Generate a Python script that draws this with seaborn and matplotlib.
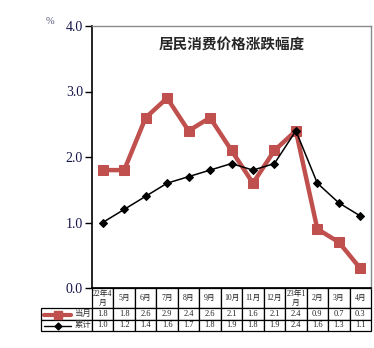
import matplotlib
matplotlib.use("Agg")
import matplotlib.pyplot as plt
import seaborn as sns
import numpy as np
import pandas as pd
from matplotlib.lines import Line2D

categories = ["22年4\n月", "5月", "6月", "7月", "8月", "9月", "10月", "11月", "12月",
              "23年1\n月", "2月", "3月", "4月"]
monthly = [1.8, 1.8, 2.6, 2.9, 2.4, 2.6, 2.1, 1.6, 2.1, 2.4, 0.9, 0.7, 0.3]
cumulative = [1.0, 1.2, 1.4, 1.6, 1.7, 1.8, 1.9, 1.8, 1.9, 2.4, 1.6, 1.3, 1.1]
series_names = ["当月", "累计"]
yticks = [0.0, 1.0, 2.0, 3.0, 4.0]
title = "居民消费价格涨跌幅度"

sns.set_theme(style="white")
plt.rcParams['font.family'] = ['Liberation Serif', 'Noto Sans CJK SC', 'DejaVu Sans']

RED = "#C0504D"
fig = plt.figure(figsize=(3.74, 3.48), dpi=100)
ax = fig.add_axes([92/374, 1-288/348, 279/374, 262/348])

df = pd.DataFrame({"idx": np.arange(len(categories)), "m": monthly, "c": cumulative})
sns.lineplot(data=df, x="idx", y="m", ax=ax, color=RED, linewidth=3.2, marker="s",
             markersize=7.5, markeredgecolor=RED, markerfacecolor=RED, zorder=2)
sns.lineplot(data=df, x="idx", y="c", ax=ax, color="black", linewidth=1.1, marker="D",
             markersize=4.3, markeredgecolor="black", markerfacecolor="black", zorder=3)

ax.set_xlim(-0.5, len(categories) - 0.5)
ax.set_ylim(0, 4.0)
ax.set_yticks(yticks)
ax.set_yticklabels([f"{v:.1f}" for v in yticks], fontsize=10, color="#15154a",
                   family=['Liberation Serif'])
ax.tick_params(axis='y', which='both', left=True, length=5, width=1, color="black", pad=1.5,
               direction='out')
ax.set_xticks([])
ax.set_xlabel("")
ax.set_ylabel("")
ax.spines['left'].set_color("black")
ax.spines['left'].set_linewidth(1.2)
for s in ['top', 'right']:
    ax.spines[s].set_color("#8a8a8a")
    ax.spines[s].set_linewidth(1.0)
ax.spines['bottom'].set_color("black")

ax.text(0.5, 1-19/262, title, transform=ax.transAxes, ha='center', va='center',
        fontsize=10.5, fontweight='bold', family=['Noto Sans CJK SC'])
fig.text(50/374, 1-21/348, "%", ha='center', va='center', fontsize=7.5, color="#555577",
         family=['Liberation Serif'])

# data table: 3 rows x 14 columns (first column holds the series labels)
ncol = len(categories)
cell_text = [[""] + categories,
             [series_names[0]] + [f"{v:.1f}" for v in monthly],
             [series_names[1]] + [f"{v:.1f}" for v in cumulative]]
tbl = ax.table(cellText=cell_text, cellLoc='center',
               bbox=[(41-92)/279, -(332-289)/262, (371-41)/279, (332-289)/262])
tbl.auto_set_font_size(False)
for (r, c), cell in tbl.get_celld().items():
    cell.set_linewidth(0.9)
    cell.set_edgecolor("black")
    cell.set_height(2.0 if r == 0 else 1.1)
    cell.set_width(51.0 if c == 0 else 279.0 / ncol)
    t = cell.get_text()
    t.set_fontsize(6)
    t.set_family(['Liberation Serif', 'Noto Sans CJK SC'])
    t.set_color("#222222")
    if r == 0:
        t.set_fontsize(5.6)
        t.set_linespacing(1.1)
    if c == 0:
        t.set_fontsize(6)
        t.set_color("#333333")
        t.set_horizontalalignment('right')
        cell._loc = 'right'
        cell.PAD = 0.02
    if r == 0 and c == 0:
        cell.set_visible(False)

# legend symbols in row-label cells
y1 = 1 - 314.5/348
y2 = 1 - 326/348
fig.add_artist(Line2D([44/374, 71/374], [y1, y1], color=RED, lw=3,
                      transform=fig.transFigure))
fig.add_artist(Line2D([57.5/374], [y1], color=RED, marker='s', markersize=5.5,
                      transform=fig.transFigure))
fig.add_artist(Line2D([44/374, 71/374], [y2, y2], color="black", lw=1,
                      transform=fig.transFigure))
fig.add_artist(Line2D([57.5/374], [y2], color="black", marker='D', markersize=3.5,
                      transform=fig.transFigure))

fig.savefig("out.png", dpi=100)
